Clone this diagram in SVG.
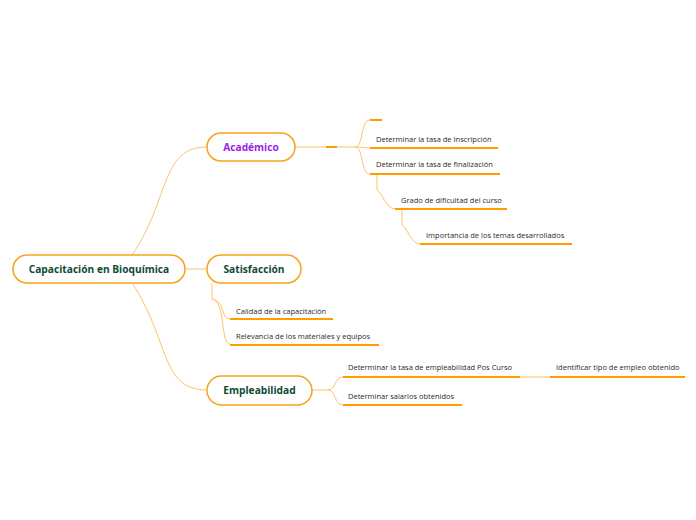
<svg xmlns="http://www.w3.org/2000/svg" width="696" height="520" viewBox="0 0 696 520">
<style>
.node rect{fill:#fff;stroke:#f7a21b;stroke-width:1.5}
.nt{font-family:"Open Sans","DejaVu Sans",sans-serif;font-weight:bold;font-size:10.2px;text-anchor:middle;fill:#0e4a36}
.st{font-family:"Open Sans","DejaVu Sans",sans-serif;font-size:7.5px;fill:#2a2a2a}
.c{fill:none;stroke:#fcc36e;stroke-width:1}
.u{fill:none;stroke:#ff9d00;stroke-width:2}
</style>
<rect width="696" height="520" fill="#fff"/>
<g id="connectors">
<path class="c" d="M132,255 C170,200 160,147 207,147"/>
<path class="c" d="M185,269 L207,269"/>
<path class="c" d="M132,283 C170,340 160,390 207,390"/>
<path class="c" d="M295,147 L355,147"/>
<path class="u" d="M326,147 L337,147"/>
<path class="c" d="M355,147 C364,147 360,120 370,120"/>
<path class="c" d="M355,147 C362,147 364,148 370,148"/>
<path class="c" d="M355,147 C364,147 360,174 370,174"/>
<path class="c" d="M377,174 L377,190 C382,192 386,209 395,209"/>
<path class="c" d="M402,209 L402,225 C407,227 411,244 420,244"/>
<path class="c" d="M212,283 L212,299 C226,301 220,319 230,319"/>
<path class="c" d="M212,299 C226,301 220,344 230,344"/>
<path class="c" d="M312,390 L328,390"/>
<path class="c" d="M328,390 C336,390 334,377 343,377"/>
<path class="c" d="M328,390 C336,390 334,405 343,405"/>
<path class="c" d="M520,377 L550,377"/>
</g>
<g id="root" class="node"><rect x="13" y="255" width="172" height="28" rx="14"/><text class="nt" x="99" y="273">Capacitación en Bioquímica</text></g>
<g id="academico" class="node"><rect x="207" y="133" width="88" height="28" rx="14"/><text class="nt" x="251" y="151" style="fill:#9b1ee8">Académico</text></g>
<g id="satisfaccion" class="node"><rect x="207" y="255" width="94" height="28" rx="14"/><text class="nt" x="254" y="273">Satisfacción</text></g>
<g id="empleabilidad" class="node"><rect x="207" y="376" width="105" height="29" rx="14.5"/><text class="nt" x="259.5" y="394">Empleabilidad</text></g>
<g id="empty"><path class="u" d="M370,120 L382,120"/></g>
<g id="inscripcion"><text class="st" x="376" y="142">Determinar la tasa de Inscripción</text><path class="u" d="M370,148 L498,148"/></g>
<g id="finalizacion"><text class="st" x="376" y="167">Determinar la tasa de finalización</text><path class="u" d="M370,174 L500,174"/></g>
<g id="grado"><text class="st" x="401" y="203">Grado de dificultad del curso</text><path class="u" d="M395,209 L507,209"/></g>
<g id="importancia"><text class="st" x="426" y="238">Importancia de los temas desarrollados</text><path class="u" d="M420,244 L572,244"/></g>
<g id="calidad"><text class="st" x="236" y="314">Calidad de la capacitación</text><path class="u" d="M230,319 L333,319"/></g>
<g id="relevancia"><text class="st" x="236" y="339">Relevancia de los materiales y equipos</text><path class="u" d="M230,345 L379,345"/></g>
<g id="tasaempleo"><text class="st" x="348" y="370">Determinar la tasa de empleabilidad Pos Curso</text><path class="u" d="M343,377 L520,377"/></g>
<g id="salarios"><text class="st" x="348" y="399">Determinar salarios obtenidos</text><path class="u" d="M343,405 L462,405"/></g>
<g id="identificar"><text class="st" x="556" y="370">Identificar tipo de empleo obtenido</text><path class="u" d="M550,377 L685,377"/></g>
</svg>
